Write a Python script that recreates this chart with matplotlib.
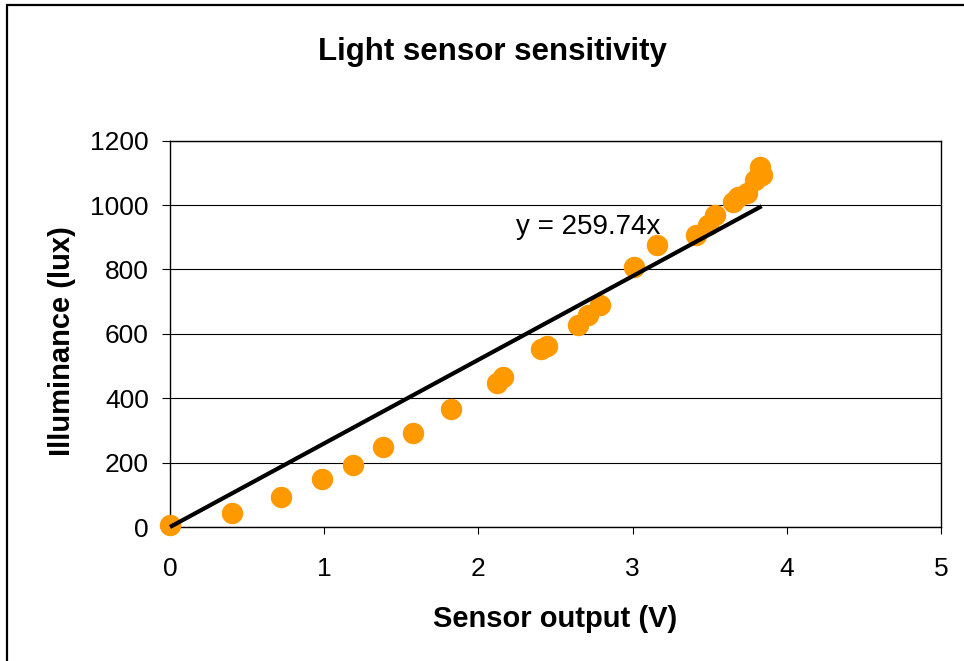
import matplotlib
matplotlib.use("Agg")
import matplotlib.pyplot as plt
from matplotlib.patches import Rectangle

plt.rcParams['font.family'] = ['Liberation Sans', 'DejaVu Sans']

# Data
sensor_v = [0.0, 0.404, 0.718, 0.988, 1.185, 1.379, 1.574, 1.820, 2.119, 2.158,
            2.404, 2.443, 2.648, 2.713, 2.789, 3.009, 3.156, 3.411, 3.490, 3.534,
            3.653, 3.686, 3.744, 3.794, 3.837, 3.826]
lux = [5, 42, 92, 148, 192, 248, 291, 366, 446, 465,
       552, 562, 627, 659, 690, 809, 876, 907, 938, 969,
       1011, 1026, 1037, 1078, 1093, 1119]
SLOPE = 259.74
x_ticks = [0, 1, 2, 3, 4, 5]
y_ticks = [0, 200, 400, 600, 800, 1000, 1200]
title = "Light sensor sensitivity"
x_label = "Sensor output (V)"
y_label = "Illuminance (lux)"
equation = "y = 259.74x"

fig = plt.figure(figsize=(9.64, 6.61), dpi=100)
fig.patch.set_facecolor("white")

# outer chart frame (only left/top edges visible in reference)
frame = Rectangle((7 / 964, -0.05), 1.2, 1 - 5 / 661 + 0.05, transform=fig.transFigure,
                  fill=False, edgecolor="black", linewidth=1.6)
fig.add_artist(frame)

ax = fig.add_axes([0.17635, 0.20272, 0.97614 - 0.17635, 0.78714 - 0.20272])
ax.set_xlim(0, 5)
ax.set_ylim(0, 1200)
ax.set_xticks(x_ticks)
ax.set_yticks(y_ticks)
ax.yaxis.grid(True, color="black", linewidth=0.8)
ax.set_axisbelow(True)
for s in ax.spines.values():
    s.set_color("black")
    s.set_linewidth(1.0)

ax.plot(sensor_v, lux, linestyle="none", marker="o", markersize=14.4,
        markerfacecolor="#FF9900", markeredgecolor="#FF9900", zorder=3,
        clip_on=False)
xmax = max(sensor_v)
ax.plot([0, xmax], [0, SLOPE * xmax], color="black", linewidth=3.0, zorder=4,
        solid_capstyle="butt", clip_on=False)
ax.text(2.244, 910, equation, fontsize=20, ha="left", va="baseline", zorder=5)

ax.tick_params(axis="y", direction="out", length=5.8, width=0.8, pad=9.5,
               labelsize=19, colors="black")
ax.tick_params(axis="x", direction="out", length=5.0, width=0.8, pad=16.5,
               labelsize=19, colors="black")

ax.set_xlabel(x_label, fontsize=21, fontweight="bold")
ax.xaxis.set_label_coords(0.5, -0.202)
ax.xaxis.label.set_va("top")
ax.set_ylabel(y_label, fontsize=21, fontweight="bold")
ax.yaxis.set_label_coords(-0.122, 0.482)

fig.text(0.511, 1 - 60 / 661, title, fontsize=22.5, fontweight="bold",
         ha="center", va="baseline")

fig.savefig("out.png", dpi=100, facecolor="white")
